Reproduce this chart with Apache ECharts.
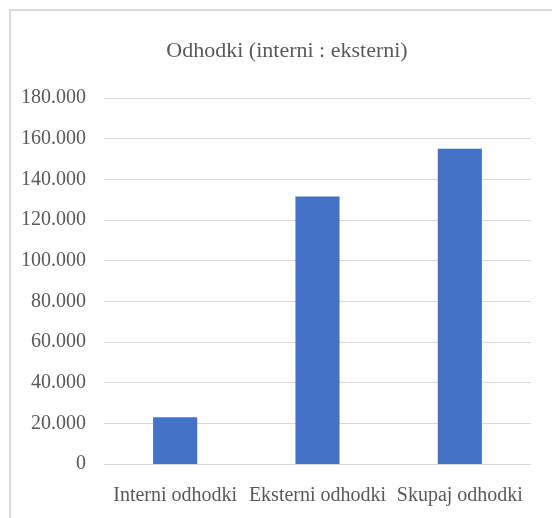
<!DOCTYPE html>
<html>
<head>
<meta charset="utf-8">
<script src="https://cdn.jsdelivr.net/npm/echarts@6/dist/echarts.min.js"></script>
<style>
html,body{margin:0;padding:0;background:#fff;}
#chart{width:552px;height:518px;}
</style>
</head>
<body>
<div id="chart"></div>
<script>
var titleText = 'Odhodki (interni : eksterni)';
var categories = ['Interni odhodki', 'Eksterni odhodki', 'Skupaj odhodki'];
var values = [23000, 131600, 155000];
var yMin = 0, yMax = 180000, yStep = 20000;

function fmt(v) {
  return String(v).replace(/\B(?=(\d{3})+(?!\d))/g, '.');
}

var chart = echarts.init(document.getElementById('chart'), null, {renderer: 'canvas'});
chart.setOption({
  animation: false,
  backgroundColor: '#ffffff',
  title: {
    text: titleText,
    left: 282,
    top: 35,
    textAlign: 'center',
    textStyle: {fontFamily: 'Liberation Serif', fontSize: 22, fontWeight: 'normal', color: '#595959'}
  },
  graphic: [{
    type: 'rect',
    shape: {x: 10, y: 10, width: 600, height: 600},
    style: {fill: 'none', stroke: '#d9d9d9', lineWidth: 2},
    silent: true
  }],
  grid: {left: 104, right: 21, top: 98, bottom: 54, containLabel: false},
  xAxis: {
    type: 'category',
    data: categories,
    axisLine: {show: true, lineStyle: {color: '#d9d9d9', width: 1}},
    axisTick: {show: false},
    axisLabel: {fontFamily: 'Liberation Serif', fontSize: 20, color: '#595959', margin: 22, interval: 0}
  },
  yAxis: {
    type: 'value',
    min: yMin, max: yMax, interval: yStep,
    axisLine: {show: false},
    axisTick: {show: false},
    splitLine: {lineStyle: {color: '#d9d9d9', width: 1}},
    axisLabel: {fontFamily: 'Liberation Serif', fontSize: 20, color: '#595959', margin: 18, formatter: fmt}
  },
  series: [{
    type: 'bar',
    data: values,
    barWidth: '31%',
    itemStyle: {color: '#4472c4'}
  }]
});
</script>
</body>
</html>
